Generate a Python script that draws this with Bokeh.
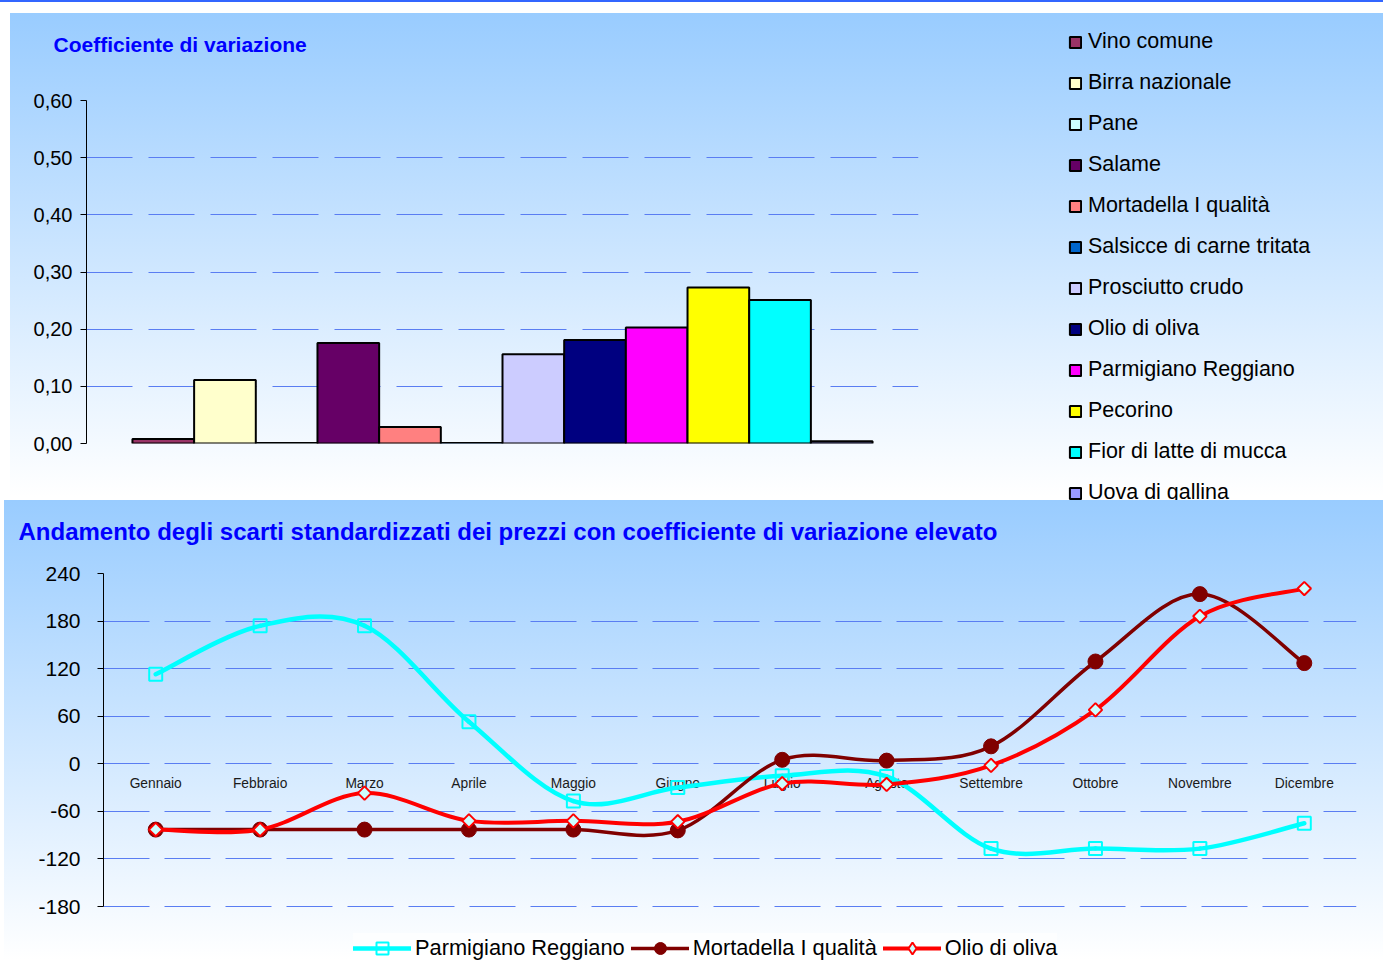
import math
from bokeh.plotting import figure
from bokeh.models import Legend, LegendItem, FixedTicker, Range1d, ColumnDataSource, Label
from bokeh.layouts import column, row
from bokeh.embed import file_html
from bokeh.resources import INLINE
from bokeh.core.properties import value

FONT = "Liberation Sans"

# ---------------- data: coefficient of variation ----------------
products = ["Vino comune", "Birra nazionale", "Pane", "Salame", "Mortadella I qualità",
            "Salsicce di carne tritata", "Prosciutto crudo", "Olio di oliva",
            "Parmigiano Reggiano", "Pecorino", "Fior di latte di mucca", "Uova di gallina"]
cv_values = [0.008, 0.111, 0.001, 0.176, 0.029, 0.001, 0.156, 0.181, 0.203, 0.273, 0.251, 0.004]
bar_colors = ["#993366", "#FFFFCC", "#CCFFFF", "#660066", "#FF8080", "#0066CC",
              "#CCCCFF", "#000080", "#FF00FF", "#FFFF00", "#00FFFF", "#9999FF"]
cv_ticks = [0.0, 0.1, 0.2, 0.3, 0.4, 0.5, 0.6]
cv_tick_labels = ["0,00", "0,10", "0,20", "0,30", "0,40", "0,50", "0,60"]
title_top = "Coefficiente di variazione"

# ---------------- data: standardized deviations ----------------
months = ["Gennaio", "Febbraio", "Marzo", "Aprile", "Maggio", "Giugno", "Luglio",
          "Agosto", "Settembre", "Ottobre", "Novembre", "Dicembre"]
z_ticks = [-180, -120, -60, 0, 60, 120, 180, 240]
z_tick_labels = ["-180", "-120", "-60", "0", "60", "120", "180", "240"]
parmigiano = [113, 174, 174, 53, -47, -30, -15, -16, -107, -107, -107, -75]
mortadella = [-83, -83, -83, -83, -83, -84, 5, 4, 22, 129, 214, 127]
olio = [-83, -83, -37, -72, -72, -73, -25, -26, -2, 68, 186, 221]
title_bottom = "Andamento degli scarti standardizzati dei prezzi con coefficiente di variazione elevato"

GRID = "#5a7df2"
TOP_GRAD = "linear-gradient(to bottom, #ffffff 0px, #ffffff 13px, #99ccff 13px, #ffffff 497px, #ffffff 100%)"
BOT_GRAD = "linear-gradient(to bottom, #99ccff 0%, #ffffff 100%)"
BLUE_LINE = "linear-gradient(to bottom, #3366ff 0px, #3366ff 2px, transparent 2px)"


def no_align(p):
    try:
        p.frame_align = False
    except Exception:
        pass


def clear_bg(p):
    p.background_fill_alpha = 0
    p.border_fill_alpha = 0
    p.outline_line_color = None


def bare_fig(w, h):
    f = figure(width=w, height=h, output_backend="svg", toolbar_location=None,
               x_range=Range1d(0, w), y_range=Range1d(0, h),
               x_axis_location=None, y_axis_location=None, title=None,
               min_border_left=0, min_border_right=0, min_border_top=0, min_border_bottom=0)
    no_align(f)
    clear_bg(f)
    f.xgrid.visible = False
    f.ygrid.visible = False
    return f


# ================= top title strip =================
t1 = bare_fig(1050, 80)
t1.styles = {"background": BLUE_LINE + ", linear-gradient(to right, #ffffff 0px, #ffffff 10px, transparent 10px), "
             + TOP_GRAD + " 0px 0px / 100% 500px no-repeat"}
t1.add_layout(Label(x=53, y=80 - 44, text=title_top, text_baseline="middle", text_align="left",
                    text_font=FONT, text_font_size="21px", text_font_style="bold",
                    text_color="#0000FF"))

# ================= top chart (bars) =================
top = figure(width=1050, height=420, output_backend="svg", toolbar_location=None,
             x_range=Range1d(-0.745, 12.745), y_range=Range1d(0, 0.6),
             x_axis_location=None, title=None,
             min_border_left=86, min_border_right=132, min_border_top=20, min_border_bottom=57)
no_align(top)
clear_bg(top)
top.styles = {"background": "linear-gradient(to right, #ffffff 0px, #ffffff 10px, transparent 10px), "
              + TOP_GRAD + " 0px -80px / 100% 500px no-repeat"}

top.yaxis.ticker = FixedTicker(ticks=cv_ticks)
top.yaxis.major_label_overrides = dict(zip(cv_ticks, cv_tick_labels))
top.yaxis.axis_line_color = "black"
top.yaxis.major_tick_line_color = "black"
top.yaxis.major_tick_out = 6
top.yaxis.major_tick_in = 0
top.yaxis.minor_tick_line_color = None
top.yaxis.major_label_standoff = 8
top.yaxis.major_label_text_font = FONT
top.yaxis.major_label_text_font_size = "20px"
top.yaxis.major_label_text_color = "black"
top.ygrid.ticker = FixedTicker(ticks=cv_ticks)
top.ygrid.grid_line_color = GRID
top.ygrid.grid_line_dash = "46 16"
top.xgrid.visible = False

for i, (v, c) in enumerate(zip(cv_values, bar_colors)):
    top.vbar(x=[i + 0.5], top=[v], bottom=0, width=1.0,
             fill_color=c, line_color="black", line_width=2)

# ================= top legend panel =================
legfig = bare_fig(333, 500)
legfig.styles = {"background": BLUE_LINE + ", " + TOP_GRAD}

bar_items = []
for i, (name, v, c) in enumerate(zip(products, cv_values, bar_colors)):
    r = legfig.vbar(x=[i + 0.5], top=[v], bottom=0, width=1.0,
                    fill_color=c, line_color="black", line_width=2, visible=False)
    bar_items.append(LegendItem(label=name, renderers=[r]))

leg1 = Legend(items=bar_items, location=(18, -5), orientation="vertical",
              label_text_font=FONT, label_text_font_size="21.5px", label_text_color="black",
              glyph_width=14, glyph_height=14, label_height=24, spacing=16,
              label_standoff=6, padding=0, margin=0,
              border_line_color=None, background_fill_alpha=0)
legfig.add_layout(leg1, "center")

# ================= bottom title strip =================
t2 = bare_fig(1383, 60)
t2.styles = {"background": "linear-gradient(to right, #ffffff 0px, #ffffff 4px, transparent 4px), "
             + BOT_GRAD + " 0px 0px / 100% 460px no-repeat"}
t2.add_layout(Label(x=18, y=60 - 31, text=title_bottom, text_baseline="middle", text_align="left",
                    text_font=FONT, text_font_size="24px", text_font_style="bold",
                    text_color="#0000FF"))

# ================= bottom chart (lines) =================
Y_PX = 333 / 420.0          # pixels per unit in the plotting frame
y_low = -180 - 54 / Y_PX    # frame continues below the -180 axis end to hold the legend
bot = figure(width=1383, height=400, output_backend="svg", toolbar_location=None,
             x_range=Range1d(-0.5, 11.5), y_range=Range1d(y_low, 240),
             x_axis_location=None, title=None,
             min_border_left=103, min_border_right=27, min_border_top=13, min_border_bottom=0)
no_align(bot)
clear_bg(bot)
bot.styles = {"background": "linear-gradient(to right, #ffffff 0px, #ffffff 4px, transparent 4px), "
              + BOT_GRAD + " 0px -60px / 100% 460px no-repeat"}

bot.yaxis.ticker = FixedTicker(ticks=z_ticks)
bot.yaxis.bounds = (z_ticks[0], z_ticks[-1])
bot.yaxis.major_label_overrides = dict(zip(z_ticks, z_tick_labels))
bot.yaxis.axis_line_color = "black"
bot.yaxis.major_tick_line_color = "black"
bot.yaxis.major_tick_out = 6
bot.yaxis.major_tick_in = 0
bot.yaxis.minor_tick_line_color = None
bot.yaxis.major_label_standoff = 17
bot.yaxis.major_label_text_font = FONT
bot.yaxis.major_label_text_font_size = "21px"
bot.yaxis.major_label_text_color = "black"
bot.ygrid.ticker = FixedTicker(ticks=z_ticks)
bot.ygrid.grid_line_color = GRID
bot.ygrid.grid_line_dash = "46 15"
bot.xgrid.visible = False

month_idx = list(range(len(months)))
bot.text(x=month_idx, y=[0] * len(months), text=months, y_offset=20,
         text_font=value(FONT), text_font_size="13.8px", text_color="#1a1a1a",
         text_align="center", text_baseline="middle")


def bezier_source(ys):
    n = len(ys)
    xs = list(range(n))
    out = {k: [] for k in ("x0", "y0", "x1", "y1", "cx0", "cy0", "cx1", "cy1")}
    for i in range(n - 1):
        a = max(i - 1, 0)
        d = min(i + 2, n - 1)
        out["x0"].append(xs[i]); out["y0"].append(ys[i])
        out["x1"].append(xs[i + 1]); out["y1"].append(ys[i + 1])
        out["cx0"].append(xs[i] + (xs[i + 1] - xs[a]) / 6)
        out["cy0"].append(ys[i] + (ys[i + 1] - ys[a]) / 6)
        out["cx1"].append(xs[i + 1] - (xs[d] - xs[i]) / 6)
        out["cy1"].append(ys[i + 1] - (ys[d] - ys[i]) / 6)
    return ColumnDataSource(out)


def bez(ys, color, lw):
    return bot.bezier(x0="x0", y0="y0", x1="x1", y1="y1", cx0="cx0", cy0="cy0",
                      cx1="cx1", cy1="cy1", source=bezier_source(ys),
                      line_color=color, line_width=lw, line_cap="round")


l1 = bez(parmigiano, "#00FFFF", 4.5)
m1 = bot.scatter(x=month_idx, y=parmigiano, marker="square", size=13,
                 line_color="#00FFFF", line_width=2, fill_color=None)
l2 = bez(mortadella, "#800000", 3.5)
m2 = bot.scatter(x=month_idx, y=mortadella, marker="circle", size=15,
                 line_color="#800000", fill_color="#800000")
l3 = bez(olio, "#FF0000", 4)
m3 = bot.scatter(x=month_idx, y=olio, marker="square", angle=math.pi / 4, size=9.5,
                 line_color="#FF0000", line_width=2, fill_color="#CCFFFF")
# diamond symbol used only for the legend entry (legend glyphs ignore marker angle)
m3_key = bot.scatter(x=month_idx, y=olio, marker="diamond", size=14,
                     line_color="#FF0000", line_width=2, fill_color="#CCFFFF", visible=False)

leg2 = Legend(items=[LegendItem(label="Parmigiano Reggiano", renderers=[l1, m1]),
                     LegendItem(label="Mortadella I qualità", renderers=[l2, m2]),
                     LegendItem(label="Olio di oliva", renderers=[l3, m3_key])],
              orientation="horizontal", location=(250, -3),
              label_text_font=FONT, label_text_font_size="21.8px", label_text_color="black",
              glyph_width=58, glyph_height=30, label_standoff=4, spacing=6,
              padding=4, margin=0, border_line_color=None,
              background_fill_color="white", background_fill_alpha=0.6)
bot.add_layout(leg2, "center")

layout = column(row(column(t1, top, spacing=0), legfig, spacing=0),
                column(t2, bot, spacing=0), spacing=0)
open("out.html", "w").write(file_html(layout, INLINE))
